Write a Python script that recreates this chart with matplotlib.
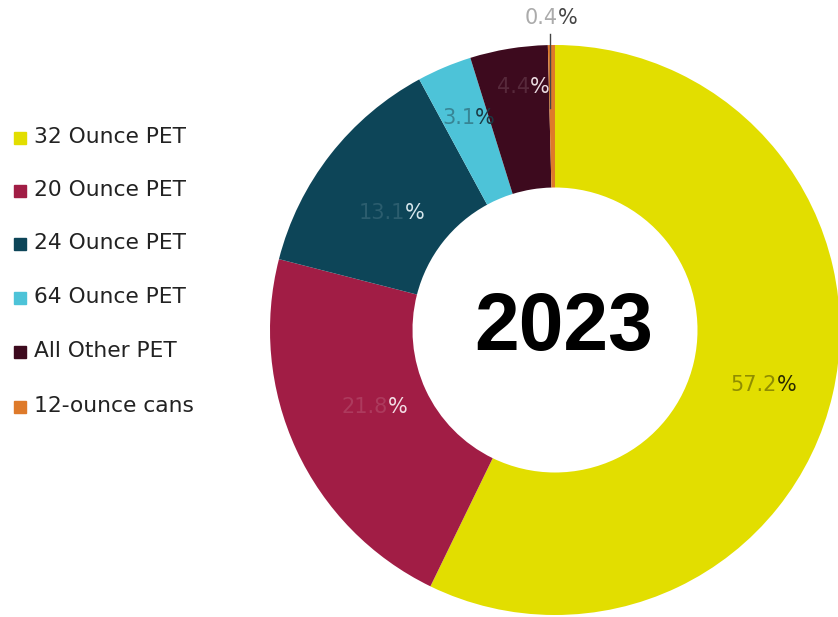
import numpy as np
import matplotlib.pyplot as plt
from matplotlib.patches import Rectangle
from matplotlib.colors import to_rgb

# Package share, 2023
categories = ["32 Ounce PET", "20 Ounce PET", "24 Ounce PET",
              "64 Ounce PET", "All Other PET", "12-ounce cans"]
shares = [57.2, 21.8, 13.1, 3.1, 4.4, 0.4]
colors = ["#E2DE00", "#A11D45", "#0D4558", "#4DC3D8", "#3D0A1E", "#DE7A2A"]
text_colors = ["#2a2a00", "#f2dde4", "#d6e6ec", "#1b3a44", "#eadbe0", "#444444"]
center_label = "2023"

W, H = 838, 617
cx, cy, R = 555, 330, 285  # donut centre / radius in pixels

fig = plt.figure(figsize=(W / 100, H / 100), dpi=100)
ax = fig.add_axes([0, 0, 1, 1])

wedges, _ = ax.pie(shares, colors=colors, startangle=90, counterclock=False,
                   radius=1.0, wedgeprops=dict(width=0.5, linewidth=0))
ax.set_aspect("auto")
ax.set_xlim(-cx / R, (W - cx) / R)
ax.set_ylim(-(H - cy) / R, cy / R)
ax.axis("off")

ax.text(0.03, 0.005, center_label, ha="center", va="center", fontsize=58,
        fontweight="bold", family="Liberation Sans", color="black")


def mix(c1, c2, t):
    a, b = np.array(to_rgb(c1)), np.array(to_rgb(c2))
    return tuple(a * (1 - t) + b * t)


def px(x, y):
    return (x - cx) / R, (cy - y) / R


# label anchor (left edge of "%") in pixels
label_px = [(777, 385), (388, 407), (405, 213), (475, 118), (530, 87), (558, 18)]
fade = [0.45, 0.15, 0.15, 0.45, 0.15, 0.45]
for i in range(len(shares)):
    x, y = px(*label_px[i])
    num_col = mix(colors[i] if i < 5 else "#ffffff", text_colors[i], fade[i])
    ax.text(x, y, f"{shares[i]:.1f}", ha="right", va="center",
            fontsize=15, color=num_col)
    ax.text(x, y, "%", ha="left", va="center", fontsize=15, color=text_colors[i])

# leader line for the small slice
w = wedges[-1]
x0 = np.cos(np.deg2rad((w.theta1 + w.theta2) / 2)) - 0.004
ax.plot([x0, x0], [0.78, 1.04], color="#444444", lw=1)

# legend
row_y = [137, 190, 243, 297, 351, 406]
for lab, col, yp in zip(categories, colors, row_y):
    fig.patches.append(Rectangle((14 / W, 1 - (yp + 7) / H), 12 / W, 12 / H,
                                 transform=fig.transFigure, color=col))
    fig.text(34 / W, 1 - yp / H, lab, ha="left", va="center", fontsize=15.7,
             color="#222222")

fig.savefig("out.png", dpi=100)
